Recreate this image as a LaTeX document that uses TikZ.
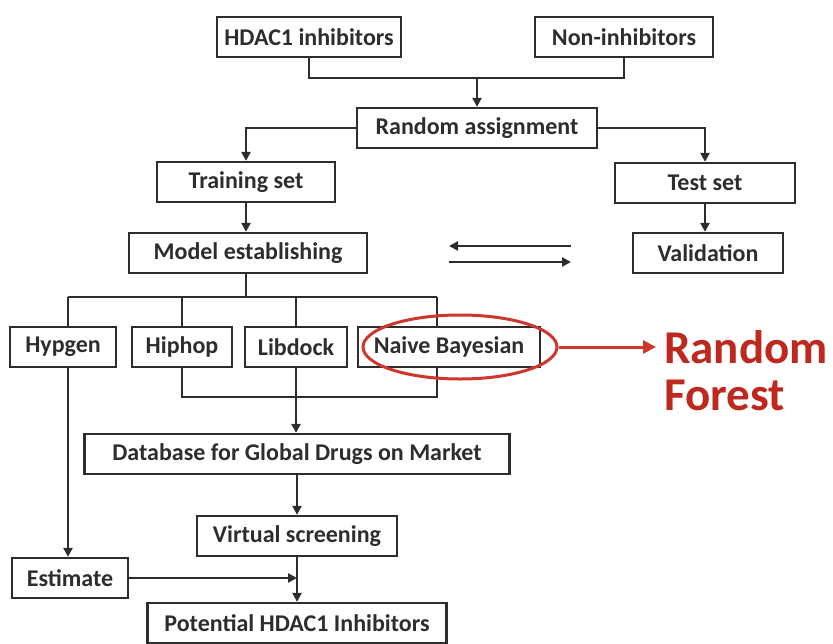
\documentclass[tikz,border=0pt]{standalone}
\usepackage{fontspec}
\setmainfont{Carlito}
\usetikzlibrary{arrows.meta,shapes.geometric}
\definecolor{accent}{RGB}{205,55,45}
\definecolor{accenttext}{RGB}{190,40,30}
\definecolor{ink}{RGB}{45,45,45}
\begin{document}
\begin{tikzpicture}[x=1pt,y=-1pt,
  box/.style={draw=ink, line width=2.3pt, minimum height=40pt, inner sep=0pt,
    font=\bfseries\fontsize{24}{24}\selectfont, text=ink},
  link/.style={line width=2.3pt, ink},
  flow/.style={link, -{Triangle[length=9pt,width=9pt]}},
  redflow/.style={line width=3pt, accent, -{Triangle[length=13pt,width=13pt]}}]
\useasboundingbox (0,0) rectangle (833,643);

% top row
\node[box, minimum width=184pt] (hdac) at (309,37) {HDAC1 inhibitors};
\node[box, minimum width=178pt] (non) at (624,37) {Non-inhibitors};
\node[box, minimum width=240pt] (rand) at (477,128) {Random assignment};
\node[box, minimum width=178pt] (train) at (246,182) {Training set};
\node[box, minimum width=180pt] (test) at (705,183) {Test set};
\node[box, minimum width=238pt] (model) at (248,253) {Model establishing};
\node[box, minimum width=150pt] (valid) at (708,253) {Validation};

% methods row
\node[box, minimum width=106pt, minimum height=40pt] (hyp) at (63,347) {Hypgen};
\node[box, minimum width=100pt, minimum height=40pt] (hip) at (182,347) {Hiphop};
\node[box, minimum width=102pt, minimum height=40pt] (lib) at (296,347) {Libdock};
\node[box, minimum width=182pt, minimum height=40pt] (nb) at (449,347) {Naive Bayesian};

% lower part
\node[box, minimum width=425pt] (db) at (297,454) {Database for Global Drugs on Market};
\node[box, minimum width=200pt] (vs) at (297,536) {Virtual screening};
\node[box, minimum width=116pt] (est) at (70,578) {Estimate};
\node[box, minimum width=299pt] (pot) at (297,623) {Potential HDAC1 Inhibitors};

% joining the two input sets
\coordinate (j1) at (477,78);
\draw[link] (hdac.south) |- (j1) -| (non.south);
\draw[flow] (j1) -- (rand.north);

% split into training and test sets
\draw[flow] (rand.west) -| (train.north);
\draw[flow] (rand.east) -| (test.north);
\draw[flow] (train.south) -- (train.south |- model.north);
\draw[flow] (test.south) -- (test.south |- valid.north);

% exchange between model and validation
\coordinate (ea) at (571,246);
\coordinate (eb) at (449,246);
\coordinate (ec) at (449,262);
\coordinate (ed) at (571,262);
\draw[flow] (ea) -- (eb);
\draw[flow] (ec) -- (ed);

% branching to the four methods
\coordinate (b0) at (246,297);
\coordinate (bl) at (68,297);
\coordinate (br) at (437,297);
\draw[link] (b0 |- model.south) -- (b0);
\draw[link] (bl) -- (br);
\draw[link] (bl) -- (bl |- hyp.north);
\draw[link] (hip.north |- b0) -- (hip.north);
\draw[link] (lib.north |- b0) -- (lib.north);
\draw[link] (br) -- (br |- nb.north);

% merging into the database screen
\coordinate (ml) at (182,397);
\coordinate (mr) at (437,397);
\draw[link] (hip.south) -- (ml) -- (mr) -- (mr |- nb.south);
\draw[flow] (lib.south) -- (lib.south |- db.north);
\draw[flow] (db) -- (vs);
\draw[flow] (vs) -- (pot);

% estimate branch
\draw[flow] (bl |- hyp.south) -- (bl |- est.north);
\coordinate (ej) at (297,578);
\draw[flow] (est.east) -- (ej);

% highlighted method
\node[draw=accent, line width=3pt, ellipse, minimum width=194pt, minimum height=64pt] (ring) at (460,347) {};
\node[anchor=north west, align=left, inner sep=0pt, text=accenttext,
  font=\bfseries\fontsize{47}{47}\selectfont] (rf) at (664,330) {Random\\Forest};
\coordinate (rfin) at (656,347);
\draw[redflow] (ring.east) -- (rfin);
\end{tikzpicture}
\end{document}
